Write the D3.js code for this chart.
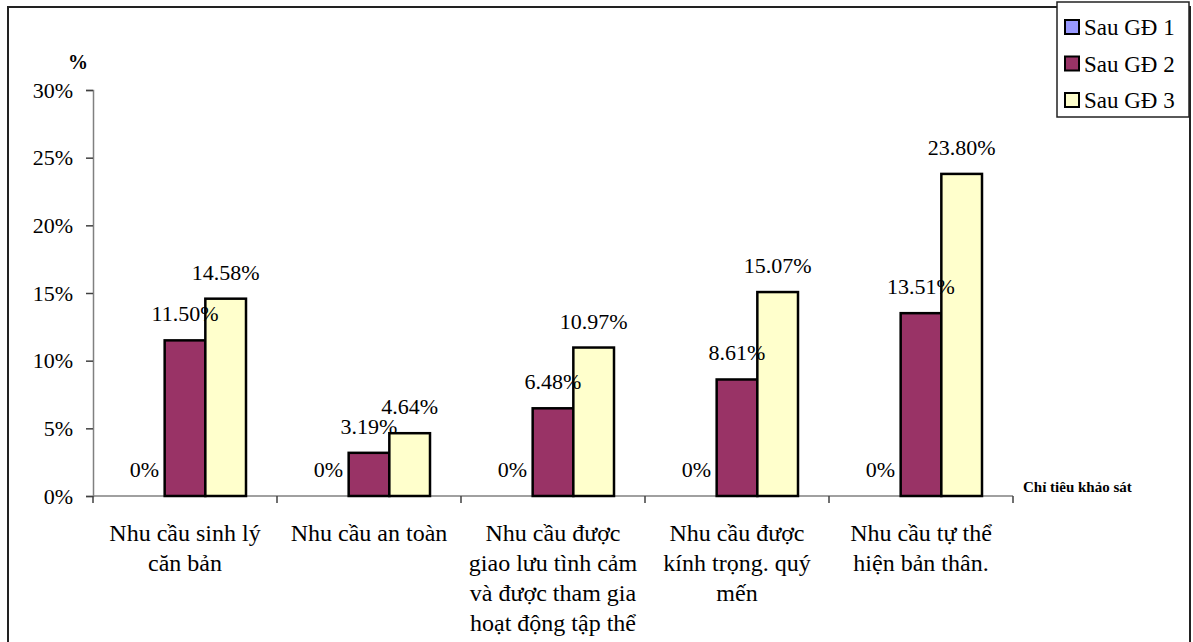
<!DOCTYPE html>
<html>
<head>
<meta charset="utf-8">
<script src="https://cdn.jsdelivr.net/npm/d3@7"></script>
<style>
  body { margin: 0; background: #fff; }
  svg text { font-family: "Liberation Serif", "Times New Roman", Times, "DejaVu Serif", serif !important; }
</style>
</head>
<body>
<div id="chart"></div>
<script>
const width = 1193, height = 642;

// data
const categories = [
  ["Nhu cầu sinh lý", "căn bản"],
  ["Nhu cầu an toàn"],
  ["Nhu cầu được", "giao lưu tình cảm", "và được tham gia", "hoạt động tập thể"],
  ["Nhu cầu được", "kính trọng. quý", "mến"],
  ["Nhu cầu tự thể", "hiện bản thân."]
];
const seriesNames = ["Sau GĐ 1", "Sau GĐ 2", "Sau GĐ 3"];
const gd1 = [0, 0, 0, 0, 0];
const gd2 = [11.50, 3.19, 6.48, 8.61, 13.51];
const gd3 = [14.58, 4.64, 10.97, 15.07, 23.80];
const yTicks = [0, 5, 10, 15, 20, 25, 30];
const colors = ["#9999FF", "#993366", "#FFFFCC"];

const series = [gd1, gd2, gd3];
const serif = "'Liberation Serif', 'Times New Roman', serif";

const svg = d3.select("#chart")
  .append("svg")
  .attr("width", width)
  .attr("height", height)
  .attr("font-family", serif);

// outer frame
svg.append("path")
  .attr("d", "M8,642 L8,7 L1190,7 L1190,642")
  .attr("fill", "none")
  .attr("stroke", "#222")
  .attr("stroke-width", 2);

const x = d3.scaleBand()
  .domain(d3.range(categories.length))
  .range([93, 1013]);

const xs = d3.scaleBand()
  .domain(d3.range(series.length))
  .range([31, x.bandwidth() - 31]);

const y = d3.scaleLinear()
  .domain([0, 30])
  .range([496, 90]);

// y axis
const yAxis = svg.append("g")
  .attr("transform", "translate(93,0)")
  .call(d3.axisLeft(y).tickValues(yTicks).tickSize(7).tickPadding(13)
    .tickFormat(d => d + "%"));
yAxis.attr("font-family", serif);
yAxis.select(".domain").attr("stroke", "#808080").attr("stroke-width", 1.5);
yAxis.selectAll(".tick line").attr("stroke", "#404040").attr("stroke-width", 1.5);
yAxis.selectAll("text")
  .attr("font-size", 22)
  .attr("fill", "#000");

// x axis
const xAxis = svg.append("g")
  .attr("transform", "translate(0,496)");
xAxis.append("line")
  .attr("x1", x.range()[0]).attr("x2", x.range()[1])
  .attr("stroke", "#808080").attr("stroke-width", 1.5);
xAxis.selectAll(".xt")
  .data(d3.range(categories.length + 1))
  .enter().append("line")
  .attr("x1", i => x.range()[0] + i * x.step())
  .attr("x2", i => x.range()[0] + i * x.step())
  .attr("y1", 0).attr("y2", 7)
  .attr("stroke", "#404040").attr("stroke-width", 1.5);

const catText = svg.selectAll(".cat")
  .data(categories)
  .enter().append("text")
  .attr("class", "cat")
  .attr("text-anchor", "middle")
  .attr("font-size", 24)
  .attr("x", (d, i) => x(i) + x.bandwidth() / 2)
  .attr("y", 541);
catText.selectAll("tspan")
  .data(d => d)
  .enter().append("tspan")
  .attr("x", function () { return d3.select(this.parentNode).attr("x"); })
  .attr("dy", (d, j) => j === 0 ? 0 : 30)
  .text(d => d);

// bars
const points = series.flatMap((s, si) => s.map((v, ci) => ({ v, ci, si })));

svg.append("g").selectAll("rect")
  .data(points)
  .enter().append("rect")
  .attr("x", d => x(d.ci) + xs(d.si))
  .attr("width", xs.bandwidth())
  .attr("y", d => y(d.v))
  .attr("height", d => y(0) - y(d.v))
  .attr("fill", d => colors[d.si])
  .attr("stroke", d => d.v > 0 ? "#000" : "none")
  .attr("stroke-width", 2.5);

// value labels (drawn over the bars)
svg.append("g").selectAll("text")
  .data(points)
  .enter().append("text")
  .attr("text-anchor", "middle")
  .attr("font-size", 22)
  .attr("x", d => x(d.ci) + xs(d.si) + xs.bandwidth() / 2)
  .attr("y", d => y(d.v) - 19)
  .text(d => d.v === 0 ? "0%" : d.v.toFixed(2) + "%");

// axis titles
svg.append("text")
  .attr("x", 78).attr("y", 69)
  .attr("text-anchor", "middle")
  .attr("font-weight", "bold")
  .attr("font-size", 20)
  .text("%");

svg.append("text")
  .attr("x", 1023).attr("y", 492)
  .attr("font-weight", "bold")
  .attr("font-size", 15)
  .text("Chỉ tiêu khảo sát");

// legend
const legend = svg.append("g");
legend.append("rect")
  .attr("x", 1057).attr("y", 2)
  .attr("width", 132).attr("height", 115)
  .attr("fill", "#fff")
  .attr("stroke", "#222")
  .attr("stroke-width", 1.5);

const items = legend.selectAll(".item")
  .data(seriesNames)
  .enter().append("g")
  .attr("transform", (d, i) => "translate(1065," + (27 + i * 36.5) + ")");
items.append("rect")
  .attr("x", 0).attr("y", -7)
  .attr("width", 14).attr("height", 14)
  .attr("fill", (d, i) => colors[i])
  .attr("stroke", "#000")
  .attr("stroke-width", 2);
items.append("text")
  .attr("x", 19).attr("y", 8)
  .attr("font-size", 23)
  .text(d => d);
</script>
</body>
</html>
